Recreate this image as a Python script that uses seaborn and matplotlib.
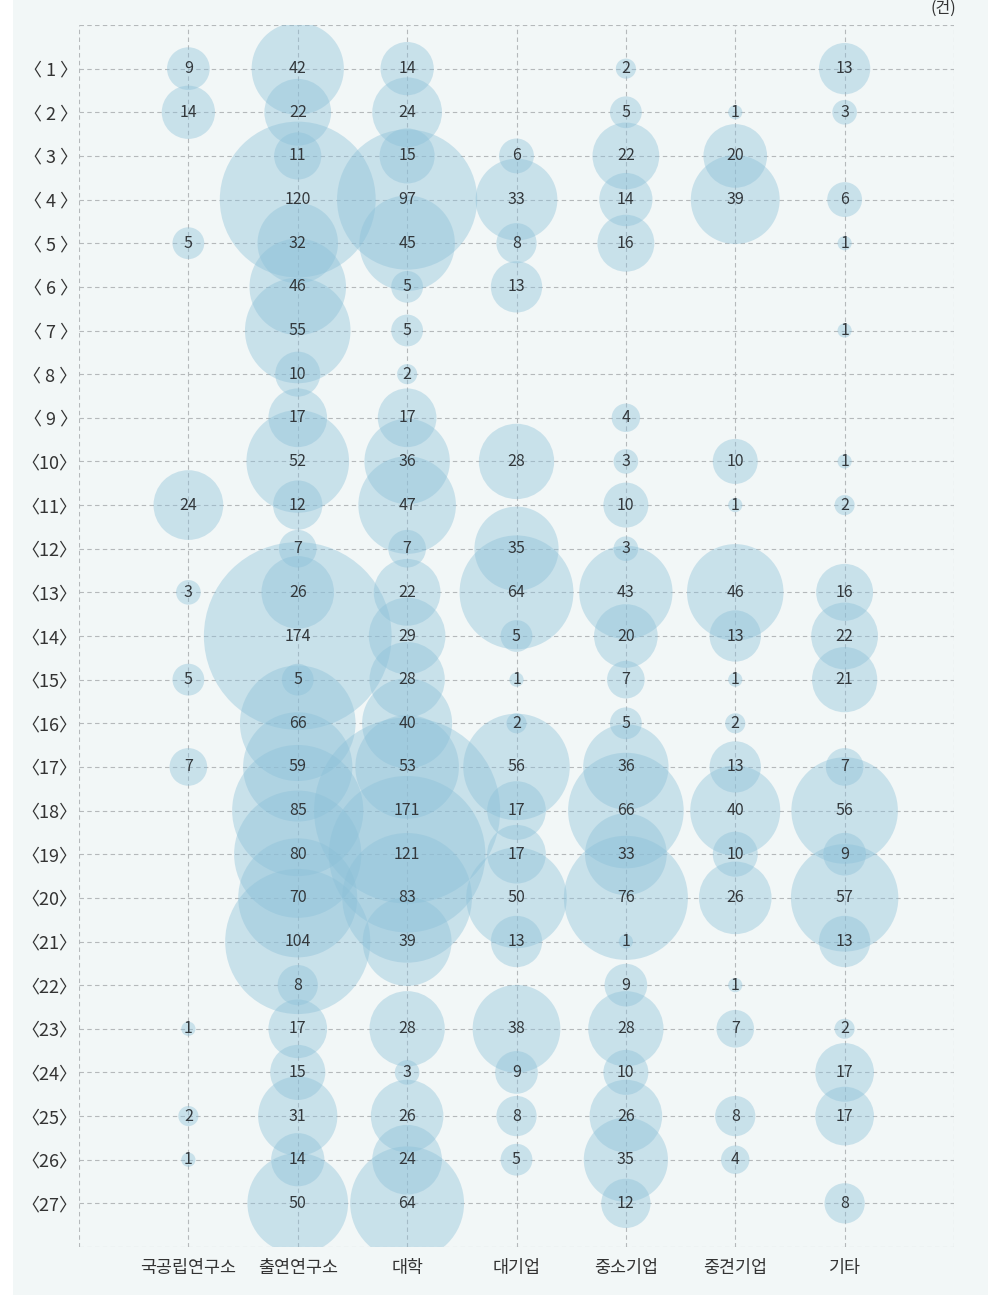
import matplotlib.pyplot as plt
import matplotlib.patches as mpatches
import seaborn as sns
import pandas as pd

sns.set_theme(style="white")
plt.rcParams["font.family"] = ["Noto Sans CJK KR", "DejaVu Sans"]

# Columns (organisation types)
orgs = ["국공립연구소", "출연연구소", "대학", "대기업", "중소기업", "중견기업", "기타"]

# Row labels
rows = [f"〈 {i} 〉" if i < 10 else f"〈{i}〉" for i in range(1, 28)]

# Counts per row (None = no bubble), order follows orgs
nat_lab = [9, 14, None, None, 5, None, None, None, None, None, 24, None, 3, None,
           5, None, 7, None, None, None, None, None, 1, None, 2, 1, None]
gov_lab = [42, 22, 11, 120, 32, 46, 55, 10, 17, 52, 12, 7, 26, 174,
           5, 66, 59, 85, 80, 70, 104, 8, 17, 15, 31, 14, 50]
univ = [14, 24, 15, 97, 45, 5, 5, 2, 17, 36, 47, 7, 22, 29,
        28, 40, 53, 171, 121, 83, 39, None, 28, 3, 26, 24, 64]
large_co = [None, None, 6, 33, 8, 13, None, None, None, 28, None, 35, 64, 5,
            1, 2, 56, 17, 17, 50, 13, None, 38, 9, 8, 5, None]
sme = [2, 5, 22, 14, 16, None, None, None, 4, 3, 10, 3, 43, 20,
       7, 5, 36, 66, 33, 76, 1, 9, 28, 10, 26, 35, 12]
mid_co = [None, 1, 20, 39, None, None, None, None, None, 10, 1, None, 46, 13,
          1, 2, 13, 40, 10, 26, None, 1, 7, None, 8, 4, None]
other = [13, 3, None, 6, 1, None, 1, None, None, 1, 2, None, 16, 22,
         21, None, 7, 56, 9, 57, 13, None, 2, 17, 17, None, 8]

series = [nat_lab, gov_lab, univ, large_co, sme, mid_co, other]

records = []
for j, vals in enumerate(series):
    for i, v in enumerate(vals):
        if v is not None:
            records.append({"x": j, "y": i, "value": v})
df = pd.DataFrame(records)

fig = plt.figure(figsize=(9.95, 13.14), dpi=100)
fig.patch.set_facecolor("white")
# light panel behind the chart
fig.patches.append(mpatches.Rectangle((13 / 995, 1 - 1295 / 1314), 975 / 995, 1295 / 1314,
                                      transform=fig.transFigure, facecolor="#f2f7f7",
                                      edgecolor="none", zorder=-5))

ax = fig.add_axes([79 / 995, 1 - 1247 / 1314, (954 - 79) / 995, (1247 - 25) / 1314])
ax.set_facecolor("none")

# area proportional to value
k = 105.0
vmin, vmax = df["value"].min(), df["value"].max()
sns.scatterplot(data=df, x="x", y="y", size="value", sizes=(k * vmin, k * vmax),
                size_norm=(vmin, vmax), color="#8bc0d8", alpha=0.4,
                edgecolor="none", linewidth=0, legend=False, ax=ax, zorder=2)

for _, r in df.iterrows():
    ax.text(r["x"], r["y"], f"{int(r['value'])}", ha="center", va="center",
            fontsize=11.5, color="#33383c", zorder=3)

ax.set_xlim(-1, 7)
ax.set_ylim(27, -1)

grid_kw = dict(color="#b5b9bb", linestyle=(0, (4, 3)), linewidth=0.8, zorder=1)
for j in range(-1, 8):
    ax.axvline(j, **grid_kw)
for i in range(-1, 28):
    ax.axhline(i, **grid_kw)

for s in ax.spines.values():
    s.set_visible(False)

ax.set_xticks(range(len(orgs)))
ax.set_xticklabels(orgs, fontsize=12.5, color="#333333")
ax.set_yticks(range(len(rows)))
ax.set_yticklabels(rows, fontsize=13, color="#333333")
ax.tick_params(axis="both", length=0)
ax.tick_params(axis="x", pad=9)
ax.tick_params(axis="y", pad=1)
ax.set_xlabel("")
ax.set_ylabel("")

fig.text(943 / 995, 1 - 8 / 1314, "(건)", ha="center", va="center",
         fontsize=11.5, color="#333333")

fig.savefig("out.png", dpi=100, facecolor="white")
